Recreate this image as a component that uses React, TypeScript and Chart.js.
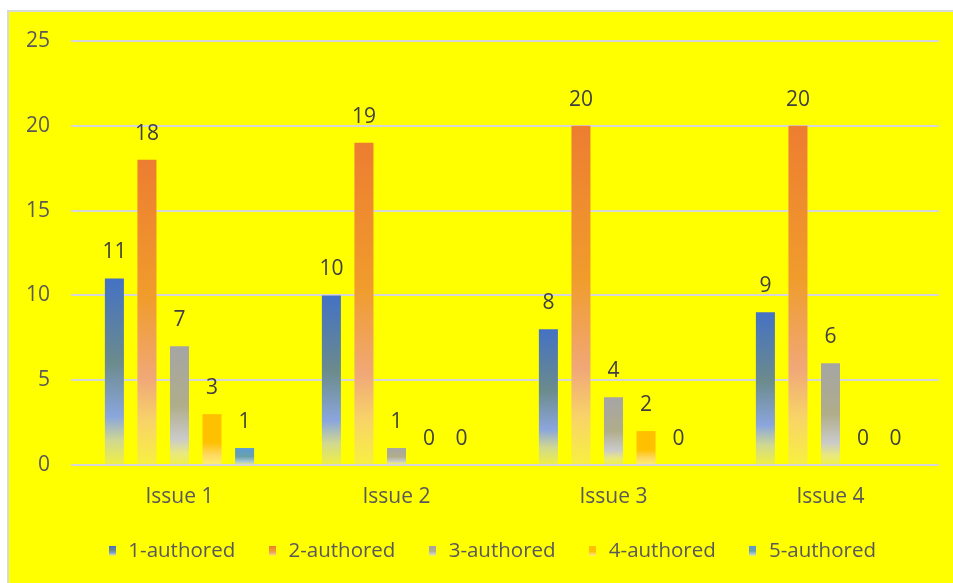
import React, { useEffect, useRef } from "react";
import { Chart, registerables } from "chart.js";

Chart.register(...registerables);

const categories = ["Issue 1", "Issue 2", "Issue 3", "Issue 4"];
const seriesNames = ["1-authored", "2-authored", "3-authored", "4-authored", "5-authored"];
const oneAuthored = [11, 10, 8, 9];
const twoAuthored = [18, 19, 20, 20];
const threeAuthored = [7, 1, 4, 6];
const fourAuthored = [3, 0, 2, 0];
const fiveAuthored = [1, 0, 0, 0];
const yTicks = [0, 5, 10, 15, 20, 25];

const gradientStops: [number, string][][] = [
  [[0, "#4472c4"], [0.45, "#6b8b8c"], [0.74, "#8ba6dd"], [0.87, "#d0d890"], [1, "#f0f040"]],
  [[0, "#ed7d31"], [0.45, "#f09c2c"], [0.72, "#f0a878"], [0.86, "#f8d468"], [1, "#f8f040"]],
  [[0, "#a5a5a5"], [0.5, "#b0ad8a"], [0.78, "#cacaca"], [0.9, "#e8e880"], [1, "#f0f048"]],
  [[0, "#ffc000"], [0.55, "#ffc000"], [0.8, "#ffd860"], [1, "#fff070"]],
  [[0, "#5b9bd5"], [0.5, "#6aa0a8"], [0.8, "#a8c8d8"], [1, "#f0f060"]],
];

function makeMarker(stops: [number, string][]) {
  const c = document.createElement("canvas");
  c.width = 7;
  c.height = 10;
  const ctx = c.getContext("2d")!;
  const g = ctx.createLinearGradient(0, 0, 0, 10);
  stops.forEach(([p, col]) => g.addColorStop(p, col));
  ctx.fillStyle = g;
  ctx.fillRect(0, 0, 7, 10);
  return c;
}

const dataLabelPlugin = {
  id: "dataLabels",
  afterDatasetsDraw(chart: any) {
    const ctx = chart.ctx;
    ctx.save();
    ctx.font = "21px 'Open Sans'";
    ctx.fillStyle = "#404040";
    ctx.textAlign = "center";
    ctx.textBaseline = "middle";
    chart.data.datasets.forEach((ds: any, di: number) => {
      const meta = chart.getDatasetMeta(di);
      meta.data.forEach((el: any, i: number) => {
        ctx.fillText(String(ds.data[i]), el.x, el.y - 26);
      });
    });
    ctx.restore();
  },
};

const shiftLegendPlugin = {
  id: "shiftLegend",
  afterLayout(chart: any) {
    if (chart.legend) chart.legend.left = 43;
  },
};

export default function App() {
  const ref = useRef<HTMLCanvasElement>(null);
  useEffect(() => {
    if (!ref.current) return;
    const seriesData = [oneAuthored, twoAuthored, threeAuthored, fourAuthored, fiveAuthored];
    const markers = gradientStops.map(makeMarker);
    const bg = (si: number) => (context: any) => {
      const stops = gradientStops[si];
      if (context.type !== "data") return stops[0][1];
      const chart = context.chart;
      const ys = chart.scales.y;
      if (!ys) return stops[0][1];
      const v = context.raw as number;
      const top = ys.getPixelForValue(v);
      const base = ys.getPixelForValue(0);
      if (!isFinite(top) || !isFinite(base) || base - top < 1) return stops[0][1];
      const g = chart.ctx.createLinearGradient(0, top, 0, base);
      stops.forEach(([p, col]) => g.addColorStop(p, col));
      return g;
    };
    const chart = new Chart(ref.current, {
      type: "bar",
      data: {
        labels: categories,
        datasets: seriesNames.map((name, si) => ({
          label: name,
          data: seriesData[si],
          backgroundColor: bg(si),
          borderWidth: 0,
          categoryPercentage: 0.75,
          barPercentage: 0.585,
        })),
      },
      options: {
        responsive: false,
        animation: false,
        layout: { padding: { left: 0, right: 14, top: 41, bottom: 11.75 } },
        plugins: {
          tooltip: { enabled: false },
          legend: {
            position: "bottom",
            labels: {
              usePointStyle: true,
              boxWidth: 12,
              boxHeight: 10,
              padding: 31,
              color: "#595959",
              font: { family: "'Open Sans'", size: 20.5 },
              generateLabels: (c: any) =>
                c.data.datasets.map((ds: any, i: number) => ({
                  text: ds.label,
                  pointStyle: markers[i],
                  fillStyle: gradientStops[i][0][1],
                  strokeStyle: "transparent",
                  lineWidth: 0,
                  hidden: false,
                  datasetIndex: i,
                  fontColor: "#595959",
                })),
            },
          },
        },
        scales: {
          x: {
            grid: { display: false, drawTicks: false },
            border: { display: false },
            ticks: { color: "#595959", font: { family: "'Open Sans'", size: 21 }, padding: 19 },
            afterFit: (s: any) => {
              s.height = 44.75;
            },
          },
          y: {
            min: 0,
            max: 25,
            grid: { color: "#d6d6d6", lineWidth: 2, drawTicks: false },
            border: { display: false },
            afterBuildTicks: (s: any) => {
              s.ticks = yTicks.map((v) => ({ value: v }));
            },
            ticks: { color: "#595959", font: { family: "'Open Sans'", size: 21 }, padding: 21 },
            afterFit: (s: any) => {
              s.width = 71;
            },
          },
        },
      },
      plugins: [dataLabelPlugin, shiftLegendPlugin],
    });
    return () => chart.destroy();
  }, []);

  return (
    <div style={{ position: "fixed", left: 0, top: 0, width: 953, height: 583, background: "#ffffff", overflow: "hidden" }}>
      <div
        style={{
          position: "absolute",
          left: 7,
          top: 10,
          width: 960,
          height: 600,
          border: "2px solid #d9d9d9",
          background: "#ffff00",
        }}
      />
      <canvas
        ref={ref}
        width={953}
        height={583}
        style={{ position: "absolute", left: 0, top: 0, width: 953, height: 583 }}
      />
    </div>
  );
}
